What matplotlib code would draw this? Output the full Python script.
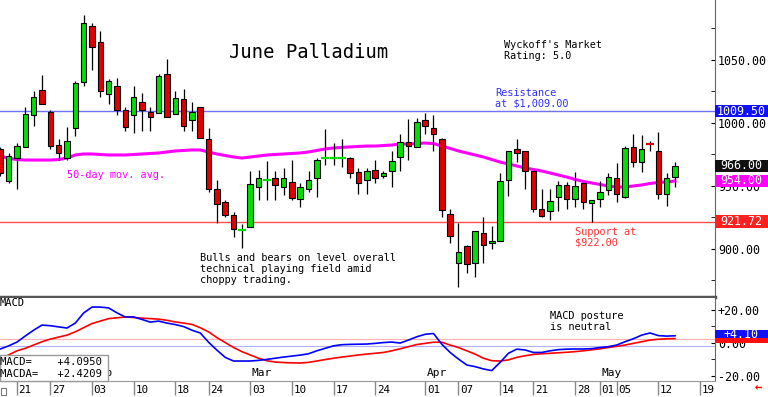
import numpy as np
import matplotlib
matplotlib.use("Agg")
import matplotlib.pyplot as plt
import matplotlib.transforms as mtransforms
from matplotlib.patches import Rectangle

plt.rcParams['font.family'] = ['DejaVu Sans Mono']

# trading-day index, Jan 21 = 0
days = np.arange(-2, 80)

opens = [979, 954, 972, 981, 1006, 1026, 1009, 982.5, 972, 996, 1032.5, 1077, 1064, 1023, 1029, 1010,
         1006, 1017, 1009, 1008, 1039, 1007, 1019, 1002, 1013, 987, 948, 937, 927, 915, 917.5, 949,
         955, 956, 949, 953, 940, 948, 956, 972, 972, 972, 972, 961, 955, 963, 958, 962,
         973, 985, 981, 1002, 996, 987, 928, 889, 902, 889, 913, 904.5, 906, 955, 979, 978,
         962, 932, 930, 941, 951, 940, 952, 936.5, 940, 947, 956, 941, 981, 969, 983.5, 978,
         944, 957]
highs = [981, 976, 984, 1013, 1025, 1038, 1010, 987, 997, 1033, 1086, 1079, 1073, 1035, 1036, 1013,
         1029, 1024, 1013, 1039, 1051, 1025, 1027, 1017, 1013, 996, 955, 939, 929, 920, 962, 963,
         970, 962, 964, 971, 952, 962, 972, 995, 984, 987, 973, 964, 964, 971, 962, 978,
         991, 1003, 1004, 1008, 1006, 988, 932, 921, 903, 914, 925, 918, 960, 978, 987, 978,
         962, 948, 948, 954, 953, 961, 952, 939, 954, 960, 968, 982, 991, 990.5, 986, 993,
         960, 969]
lows = [958, 952, 948, 981, 998, 1015, 979, 971, 971, 990, 1029, 1042, 1021, 1015, 1006, 994,
        992, 994, 994, 1008, 1005, 1007, 994, 994, 988, 945, 921, 925, 909.5, 901, 917.5, 939,
        939, 939, 943, 939, 933, 945, 941, 967, 967, 965, 956, 944, 944, 952, 956, 949,
        962, 971, 981, 991, 978, 925, 905, 870, 881, 878, 889, 900, 906, 942, 969, 948,
        929, 925, 923, 930, 932, 933, 932, 921.4, 933, 943, 937, 940.5, 965, 961, 978, 940,
        934, 949]
closes = [960, 974, 982, 1007, 1021, 1015, 982, 976, 986, 1032, 1079, 1060, 1025, 1033, 1010, 997,
          1021, 1010, 1005, 1037, 1005, 1020, 998, 1009, 988, 948, 936, 927, 916, 915.5, 951.6, 956,
          955.5, 951, 956, 940.5, 949, 955, 971, 972.5, 972.5, 972.5, 960, 952, 962, 956, 960, 970,
          985, 982, 1001, 998, 991, 931, 910, 898, 888, 914, 903, 906.5, 954, 978, 976, 962,
          932, 926, 938, 951, 940, 950, 937, 939, 945, 957, 944, 980, 969, 979, 983, 944,
          956, 966]

ma50 = [973.8, 971.8, 971.0, 970.6, 970.6, 970.6, 970.6, 971.0, 972.2, 974.6, 975.4, 975.4, 975.0, 974.6,
        974.6, 974.6, 975.0, 975.4, 975.8, 976.2, 977.0, 977.8, 978.2, 978.6, 978.6, 977.0, 975.4, 974.2,
        973.0, 972.2, 973.0, 973.8, 974.6, 975.0, 975.4, 975.8, 976.2, 977.0, 978.2, 979.4, 980.2, 980.6,
        981.0, 981.4, 981.7, 981.7, 982.1, 982.5, 983.3, 983.3, 983.7, 984.1, 983.7, 981.7, 979.8, 977.8,
        976.2, 974.6, 973.0, 971.0, 969.0, 967.5, 965.9, 964.3, 963.1, 961.9, 960.3, 958.7, 957.1, 955.2,
        953.6, 952.4, 951.2, 950.0, 949.2, 949.2, 950.0, 950.8, 952.0, 952.8, 953.2, 954.0]

macd = [-3.9, -2.0, 0.3, 4.0, 7.5, 10.6, 10.2, 9.5, 8.8, 11.8, 17.9, 21.5, 21.5, 21.0, 18.0, 15.5,
        15.5, 14.0, 12.4, 13.0, 11.8, 10.9, 9.7, 7.5, 5.8, 0.2, -4.6, -9.0, -11.2, -11.2, -11.2, -10.8,
        -10.2, -9.5, -8.8, -8.2, -7.6, -6.8, -5.0, -3.5, -2.0, -1.3, -1.1, -1.0, -0.9, -0.5, 0.0, 0.3,
        -0.3, 1.5, 3.5, 5.0, 5.5, -1.0, -6.0, -10.0, -13.6, -14.6, -16.0, -17.0, -12.0, -6.5, -4.0, -4.5,
        -6.0, -6.0, -5.0, -4.3, -4.0, -3.9, -3.9, -3.7, -3.0, -2.5, -1.5, 0.5, 2.3, 4.5, 5.8, 4.2,
        3.9, 4.1]
macda = [-10.0, -7.5, -5.0, -3.5, -1.5, 0.5, 2.1, 3.3, 4.5, 6.5, 9.0, 11.5, 13.0, 14.5, 15.0, 15.5,
         15.2, 14.8, 14.5, 14.2, 13.5, 12.5, 11.8, 11.0, 9.0, 6.5, 3.0, 0.0, -3.0, -5.5, -7.5, -9.5,
         -11.0, -11.8, -12.1, -12.3, -12.4, -12.0, -11.2, -10.3, -9.5, -8.8, -8.2, -7.5, -7.0, -6.5, -6.0, -5.0,
         -3.8, -2.5, -1.2, -0.5, 0.2, 0.2, -1.5, -3.0, -5.0, -7.0, -9.5, -11.0, -11.2, -10.5, -9.0, -8.0,
         -7.2, -6.8, -6.5, -6.2, -5.9, -5.5, -5.0, -4.4, -3.8, -3.0, -2.3, -1.5, -0.5, 0.5, 1.5, 2.0,
         2.3, 2.4]

tick_idx = [0, 4, 9, 14, 19, 23, 28, 33, 38, 43, 49, 53, 58, 62, 67, 70, 72, 77, 82]
tick_lbl = ["21", "27", "03", "10", "18", "24", "03", "10", "17", "24", "01", "07", "14", "21",
            "28", "01", "05", "12", "19"]
month_idx = [9, 28, 49, 70]
month_lbl = ["Feb", "Mar", "Apr", "May"]

resistance = 1009.50
support = 921.72

W, H = 768, 397
fig = plt.figure(figsize=(W / 100, H / 100), dpi=100)
xr = 715 / W

ax = fig.add_axes([0, 1 - 297 / H, xr, 297 / H])
ax2 = fig.add_axes([0, 1 - 381 / H, xr, 83 / H])
ax3 = fig.add_axes([0, 0, xr, 16 / H])

xlim = (-2.04, 83.8)
for a in (ax, ax2, ax3):
    a.set_xlim(*xlim)
    a.set_xticks([])

# ---- price panel ----
ax.set_ylim(861.9, 1097.6)
green, red = "#00e000", "#e00000"
for d, o, h, l, c in zip(days, opens, highs, lows, closes):
    col = green if c >= o else red
    ax.vlines(d, l, h, color="black", lw=0.9, zorder=3)
    if abs(c - o) < 1.0:
        ax.hlines(o, d - 0.45, d + 0.45, color=col, lw=1.6, zorder=4)
    else:
        ax.add_patch(Rectangle((d - 0.33, min(o, c)), 0.66, abs(c - o), facecolor=col,
                               edgecolor="black", lw=0.8, zorder=4))

ax.plot(days, ma50, color="#ff00ff", lw=2.2, zorder=2)
ax.axhline(resistance, color="#7070ff", lw=1.0, zorder=1)
ax.axhline(support, color="#ff5050", lw=1.0, zorder=1)

ax.yaxis.tick_right()
ax.set_yticks([900, 950, 1000, 1050])
ax.set_yticklabels(["900.00", "950.00", "1000.00", "1050.00"])
ax.set_yticks(np.arange(875, 1100, 25), minor=True)
ax.tick_params(axis="y", which="both", direction="in", length=3, pad=2, labelsize=8.4,
               colors="black")
for s in ("top", "left"):
    ax.spines[s].set_visible(False)
ax.spines["bottom"].set_color("#555555")
ax.spines["bottom"].set_linewidth(2.5)
ax.spines["right"].set_color("#666666")


def tag(a, y, h, text, bg):
    tr = mtransforms.blended_transform_factory(fig.transFigure, a.transData)
    a.add_patch(Rectangle((xr, y - h / 2), 1 - xr, h, transform=tr, facecolor=bg,
                          edgecolor="none", clip_on=False, zorder=10))
    a.text((xr + 1) / 2, y, text, transform=tr, ha="center", va="center", color="white",
           fontsize=8.4, zorder=11, clip_on=False)


tag(ax, 1009.5, 10, "1009.50", "#1010ff")
tag(ax, 966.0, 10, "966.00", "#101010")
tag(ax, 954.0, 10, "954.00", "#ff00ff")
tag(ax, 921.72, 10, "921.72", "#ff2020")

# ---- MACD panel ----
ax2.set_ylim(-23.3, 27.0)
ax2.axhline(2.1, color="#ffb0b0", lw=0.8)
ax2.axhline(-2.1, color="#b0b0ff", lw=0.8)
ax2.plot(days, macda, color="#ff0000", lw=1.2)
ax2.plot(days, macd, color="#0000ff", lw=1.2)
ax2.yaxis.tick_right()
ax2.set_yticks([-20, 0, 20])
ax2.set_yticklabels(["-20.00", "0.00", "+20.00"])
ax2.set_yticks(np.arange(-20, 21, 10), minor=True)
ax2.tick_params(axis="y", which="both", direction="in", length=3, pad=2, labelsize=8.4)
for s in ("top", "left"):
    ax2.spines[s].set_visible(False)
ax2.spines["bottom"].set_color("#999999")
ax2.spines["right"].set_color("#666666")

tr2 = mtransforms.blended_transform_factory(fig.transFigure, ax2.transData)
ax2.add_patch(Rectangle((xr, -0.3), 1 - xr, 5.5, transform=tr2, facecolor="#ff1010",
                        edgecolor="none", clip_on=False, zorder=9))
ax2.add_patch(Rectangle((xr, 2.7), 1 - xr, 5.0, transform=tr2, facecolor="#1010ff",
                        edgecolor="none", clip_on=False, zorder=10))
ax2.text((xr + 1) / 2, 5.1, "+4.10", transform=tr2, ha="center", va="center", color="white",
         fontsize=8.4, zorder=11, clip_on=False)

for i, m in zip(month_idx, month_lbl):
    ax2.text(i + 0.15, -18.5, m, fontsize=8, va="center", ha="left", zorder=5)

ax2.text(0.0, 0.94, "MACD", transform=ax2.transAxes, fontsize=7.5, va="center", ha="left")

# legend box
fig.patches.append(Rectangle((0, 1 - 381 / H), 108 / W, 26 / H, transform=fig.transFigure,
                             facecolor="white", edgecolor="#999999", lw=1.0, zorder=20))
fig.text(0.0, 1 - 362 / H, "MACD=    +4.0950", fontsize=7.6, va="center", zorder=21)
fig.text(0.0, 1 - 374 / H, "MACDA=   +2.4209", fontsize=7.6, va="center", zorder=21)

# ---- date strip ----
ax3.set_ylim(0, 1)
ax3.axis("off")
ax3.vlines(tick_idx, 0.15, 1.0, color="#888888", lw=1.0)
for i, t in zip(tick_idx, tick_lbl):
    ax3.text(i + 0.2, 0.45, t, fontsize=7.8, va="center", ha="left")
fig.patches.append(Rectangle((1 / W, 2 / H), 5 / W, 7 / H, transform=fig.transFigure,
                             facecolor="white", edgecolor="#777777", lw=0.8))

fig.text(755 / W, 1 - 388 / H, "\u2190", color="#ff0000", fontsize=9, va="center",
         ha="left", fontweight="bold")

# ---- annotations ----
fig.text(229 / W, 1 - 52 / H, "June Palladium", fontsize=13.6, va="center")
fig.text(504 / W, 1 - 45 / H, "Wyckoff's Market", fontsize=7.3, va="center")
fig.text(504 / W, 1 - 56 / H, "Rating: 5.0", fontsize=7.3, va="center")
fig.text(495 / W, 1 - 93 / H, "Resistance", fontsize=7.4, va="center", color="#3030ff")
fig.text(495 / W, 1 - 103 / H, "at $1,009.00", fontsize=7.4, va="center", color="#3030ff")
fig.text(67 / W, 1 - 175 / H, "50-day mov. avg.", fontsize=7.4, va="center", color="#ff00ff")
fig.text(575 / W, 1 - 232 / H, "Support at", fontsize=7.4, va="center", color="#ff3030")
fig.text(575 / W, 1 - 243 / H, "$922.00", fontsize=7.4, va="center", color="#ff3030")
fig.text(200 / W, 1 - 258 / H, "Bulls and bears on level overall", fontsize=7.4, va="center")
fig.text(200 / W, 1 - 269 / H, "technical playing field amid", fontsize=7.4, va="center")
fig.text(200 / W, 1 - 280 / H, "choppy trading.", fontsize=7.4, va="center")
fig.text(550 / W, 1 - 316 / H, "MACD posture", fontsize=7.4, va="center")
fig.text(550 / W, 1 - 327 / H, "is neutral", fontsize=7.4, va="center")

fig.savefig("out.png", dpi=100)
